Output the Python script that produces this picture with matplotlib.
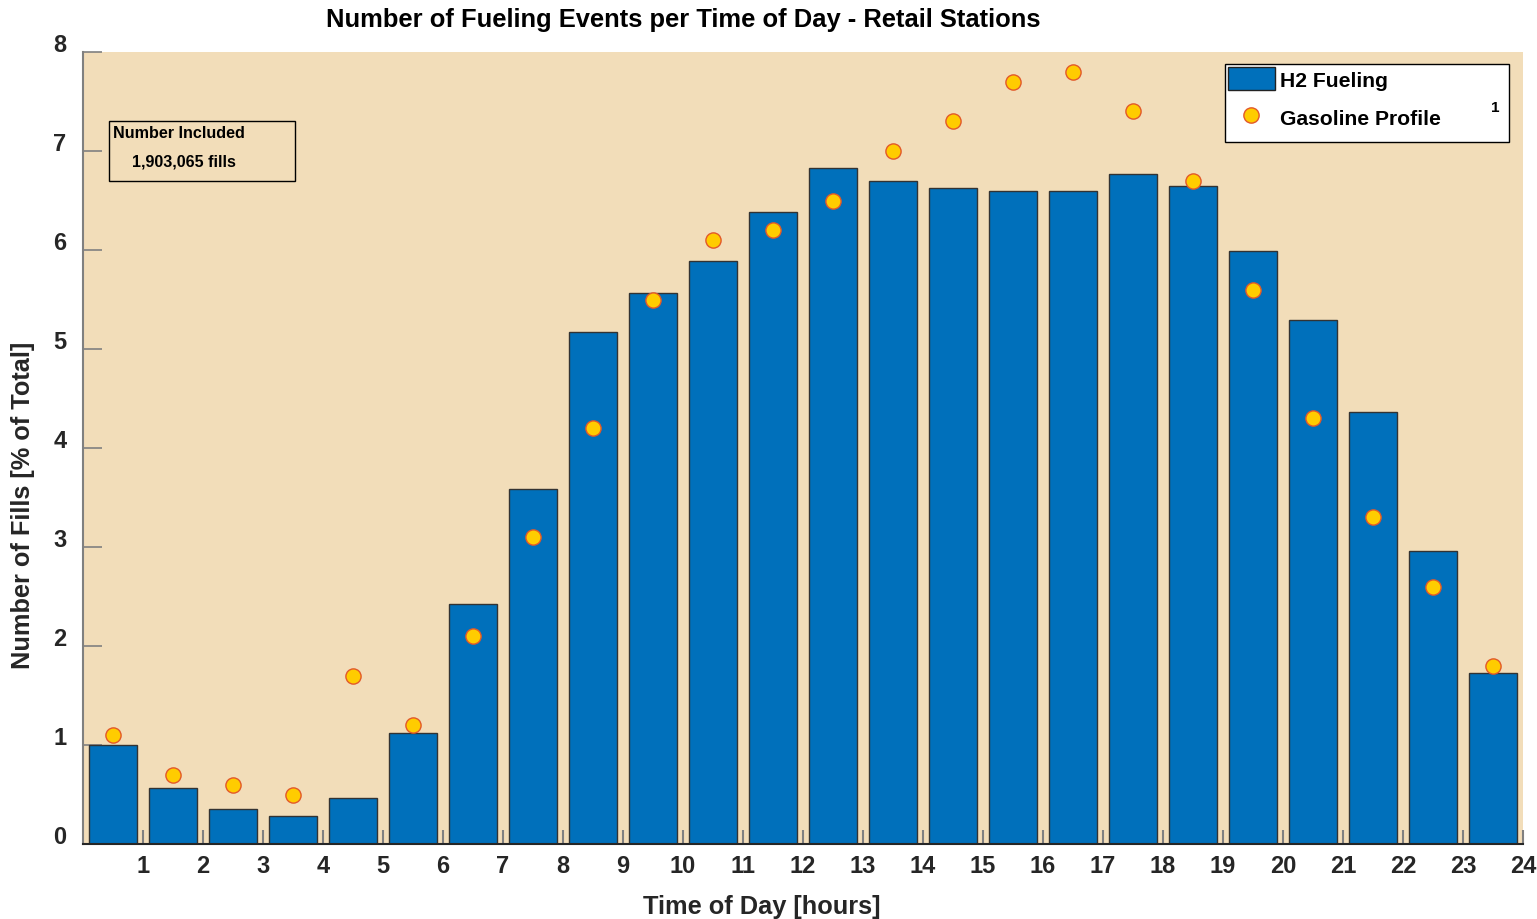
import matplotlib
matplotlib.use("Agg")
import matplotlib.pyplot as plt
import matplotlib.transforms as mtransforms
from matplotlib.patches import Rectangle
from matplotlib.lines import Line2D
import numpy as np

plt.rcParams['font.family'] = ['Liberation Sans', 'DejaVu Sans']
plt.rcParams['font.weight'] = 'bold'

hours = np.arange(1, 25)
h2_fueling = [1.00, 0.57, 0.35, 0.28, 0.46, 1.12, 2.42, 3.59, 5.17, 5.57, 5.89, 6.38,
              6.83, 6.70, 6.63, 6.60, 6.60, 6.77, 6.65, 5.99, 5.29, 4.36, 2.96, 1.73]
gasoline = [1.1, 0.7, 0.6, 0.5, 1.7, 1.2, 2.1, 3.1, 4.2, 5.5, 6.1, 6.2,
            6.5, 7.0, 7.3, 7.7, 7.8, 7.4, 6.7, 5.6, 4.3, 3.3, 2.6, 1.8]

bar_col = '#0070BB'
bg_col = '#F2DDB9'

fig = plt.figure(figsize=(15.37, 9.2), dpi=100)
ax = fig.add_axes([83/1537, 75/920, 1440/1537, 792/920])
ax.set_facecolor(bg_col)

x = hours - 0.5
ax.bar(x, h2_fueling, width=0.8, color=bar_col, edgecolor='#333333', linewidth=1, zorder=2)
ax.scatter(x, gasoline, s=120, color='#FFCC00', edgecolor='#E2582A', linewidth=1, zorder=3)

ax.set_xlim(0, 24)
ax.set_ylim(0, 8)
ax.set_xticks(hours)
ax.set_yticks(range(0, 9))
ax.tick_params(axis='x', direction='in', length=10, width=1.5, color='#808080',
               labelsize=17, pad=7, labelcolor='#262626')
ax.tick_params(axis='y', direction='in', length=14, width=1.2, color='#808080',
               labelsize=17, pad=12, labelcolor='#262626')
# y labels sit a little above their ticks
up = mtransforms.ScaledTranslation(0, 7/100, fig.dpi_scale_trans)
for lab in ax.get_yticklabels():
    lab.set_verticalalignment('center')
    lab.set_transform(lab.get_transform() + up)
for lab in ax.get_xticklabels() + ax.get_yticklabels():
    lab.set_fontweight('bold')

ax.spines['top'].set_visible(False)
ax.spines['right'].set_visible(False)
ax.spines['left'].set_color('#808080')
ax.spines['left'].set_linewidth(1.5)
ax.spines['bottom'].set_color('#262626')
ax.spines['bottom'].set_linewidth(1.5)

ax.set_xlabel('Time of Day [hours]', fontsize=18.3, fontweight='bold', color='#262626')
ax.xaxis.set_label_coords(0.4715, -0.063)
ax.set_ylabel('Number of Fills [% of Total]', fontsize=18.3, fontweight='bold', color='#262626')
ax.yaxis.set_label_coords(-0.0333, 0.429)

fig.text(683/1537, 1 - 20/920, 'Number of Fueling Events per Time of Day - Retail Stations',
         ha='center', va='center', fontsize=18.4, fontweight='bold')

# info box
ax.add_patch(Rectangle((0.018, 0.837), 0.129, 0.0758, transform=ax.transAxes,
                       facecolor=bg_col, edgecolor='black', linewidth=1, zorder=4))
ax.text(0.021, 0.898, 'Number Included', transform=ax.transAxes, fontsize=11.6,
        fontweight='bold', va='center', zorder=5)
ax.text(0.034, 0.862, '1,903,065 fills', transform=ax.transAxes, fontsize=11.6,
        fontweight='bold', va='center', zorder=5)

# legend frame drawn by hand so it can be taller than the entries
ax.add_patch(Rectangle((0.793, 0.886), 0.197, 0.0985, transform=ax.transAxes,
                       facecolor='white', edgecolor='black', linewidth=1, zorder=5))
handles = [Rectangle((0, 0), 1, 1, facecolor=bar_col, edgecolor='#222222', linewidth=1),
           Line2D([], [], marker='o', linestyle='none', markersize=11,
                  markerfacecolor='#FFCC00', markeredgecolor='#E2582A')]
leg = ax.legend(handles, ['H2 Fueling', 'Gasoline Profile'], loc='upper left',
                bbox_to_anchor=(0.793, 0.9845), borderaxespad=0, frameon=False,
                prop={'size': 15.2, 'weight': 'bold'},
                handlelength=2.2, handleheight=1.3, labelspacing=0.72, handletextpad=0.25,
                borderpad=0.15)
leg.set_zorder(6)
ax.text(0.981, 0.931, '1', transform=ax.transAxes, fontsize=11, fontweight='bold',
        ha='center', va='center', zorder=7)

fig.savefig('out.png', dpi=100)
